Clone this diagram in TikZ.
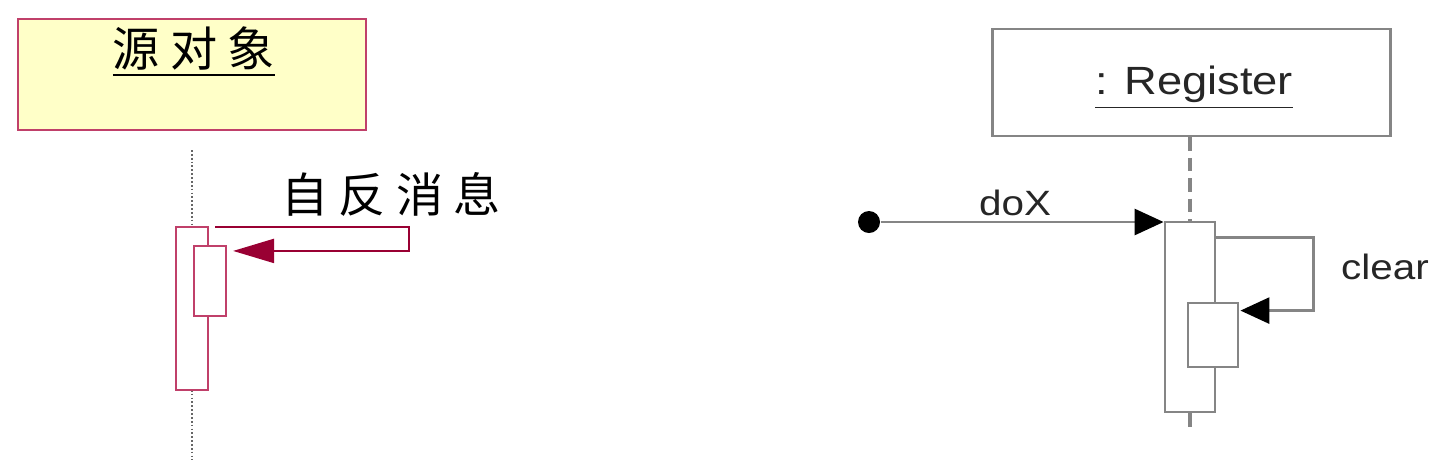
\documentclass[tikz,border=0pt]{standalone}
\usepackage{fontspec}
\newfontfamily\cjkfont[LetterSpace=22]{Noto Sans CJK SC}
\newfontfamily\uifont[FakeStretch=1.15]{Liberation Sans}
\usetikzlibrary{arrows.meta, positioning}
\definecolor{framered}{HTML}{C0406A}
\definecolor{tipred}{HTML}{990033}
\definecolor{noteyellow}{HTML}{FFFFC8}
\definecolor{linegray}{HTML}{858585}

\begin{document}
\begin{tikzpicture}[x=0.01cm, y=-0.01cm,
  srcbox/.style={draw=framered, fill=noteyellow, line width=0.6pt, inner sep=0pt, minimum width=3.48cm, minimum height=1.11cm},
  lact/.style={draw=framered, fill=white, line width=0.6pt, inner sep=0pt, minimum width=0.32cm},
  lmsg/.style={draw=tipred, line width=0.6pt, -{Triangle[length=0.41cm, width=0.24cm, color=tipred]}},
  regbox/.style={draw=linegray, fill=white, line width=0.8pt, inner sep=0pt, minimum width=3.97cm, minimum height=1.07cm},
  ract/.style={draw=linegray, fill=white, line width=0.8pt, inner sep=0pt, minimum width=0.5cm},
  rmsg/.style={draw=linegray, line width=0.8pt, -{Triangle[length=0.29cm, width=0.26cm, color=black]}},
  lifeline/.style={linegray, line width=0.9pt, dash pattern=on 3.8pt off 2pt},
  cjktext/.style={inner sep=0pt, font=\cjkfont\fontsize{13.4}{15}\selectfont},
  uitext/.style={inner sep=0pt, text=black!85, font=\uifont\fontsize{10}{12}\selectfont}]
  \useasboundingbox (0,0) rectangle (1442,460);
  % left: source object
  \node[srcbox] (src) at (192,74.5) {};
  \node[cjktext] (srclabel) at (194,52) {\underline{源对象}};
  \coordinate (ltop) at (192,150);
  \coordinate (lbot) at (192,460);
  \draw[black!60, line width=0.4pt, dash pattern=on 0.5pt off 0.6pt] (ltop) -- (lbot);
  \node[lact, minimum height=1.63cm] (lact1) at (192,308.5) {};
  \node[lact, minimum height=0.70cm] (lact2) at (210,281) {};
  \draw[lmsg] ([xshift=0.06cm,yshift=-0.01cm]lact1.north east) -- ++(194,0) |- ([xshift=0.06cm,yshift=-0.06cm]lact2.north east);
  \node[cjktext] (reflabel) at (391,194) {自反消息};
  % right: Register
  \node[regbox] (reg) at (1191.5,82.5) {};
  \node[uitext, font=\uifont\fontsize{11.2}{13}\selectfont] (reglabel) at (1194,88) {\underline{: Register}};
  \node[ract, minimum height=1.90cm] (ract1) at (1190,317) {};
  \node[ract, minimum height=0.64cm] (ract2) at (1213,335) {};
  \coordinate (rbot) at (1190,433);
  \draw[lifeline] (reg.south -| ract1.north) -- (ract1.north);
  \draw[lifeline] (ract1.south) -- (rbot);
  \node[circle, fill=black, inner sep=0pt, minimum size=0.22cm] (start) at (869,222) {};
  \draw[rmsg] (start) -- (start -| ract1.west);
  \node[uitext] (doxlabel) at (1015,203) {doX};
  \draw[rmsg] ([yshift=-0.17cm]ract1.north east) -- ++(97,0) |- ([xshift=0.01cm,yshift=-0.09cm]ract2.north east);
  \node[uitext] (clearlabel) at (1385,267) {clear};
\end{tikzpicture}
\end{document}
